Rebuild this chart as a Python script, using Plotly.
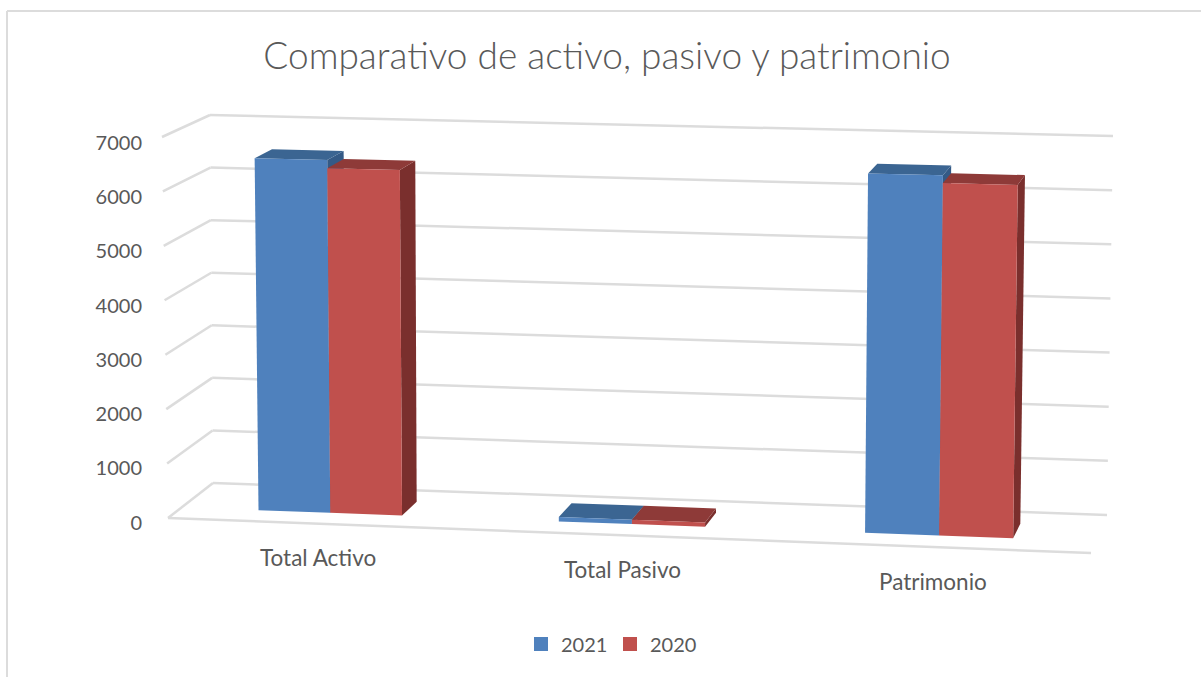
import plotly.graph_objects as go

# ---- data ----
categories = ["Total Activo", "Total Pasivo", "Patrimonio"]
values_2021 = [6520, 80, 6530]
values_2020 = [6370, 80, 6390]
axis_ticks = [0, 1000, 2000, 3000, 4000, 5000, 6000, 7000]
series_names = ["2021", "2020"]
title_text = "Comparativo de activo, pasivo y patrimonio"

# ---- style ----
FRONT = ["#4F81BD", "#C0504D"]
TOP = ["#3B6592", "#8E3A38"]
SIDE = ["#345A86", "#7A2F2D"]
GRID = "#DCDCDC"
TEXT = "#595959"
FONT = "Lato"

# ---- view: corners of the 3-D box on screen (u along categories, v value share, w depth) ----
W, H = 1201, 677
LEFT = 150
VMAX = 7000
C = {
    (0, 0, 0): (168, 518), (1, 0, 0): (1091, 553),
    (0, 0, 1): (213, 483), (1, 0, 1): (1107, 515),
    (0, 1, 0): (162, 137), (1, 1, 0): (1097, 161),
    (0, 1, 1): (210, 115), (1, 1, 1): (1113, 136),
}
GROUP_U = [0.1625, 0.4925, 0.8285]
GROUP_BAR_W = [0.0785, 0.0800, 0.0810]
Y0_PX, PX_PER_UNIT = 522.5, (522.5 - 143) / VMAX


def to_axis(py):
    return (Y0_PX - py) / PX_PER_UNIT


def project(u, value, w):
    v = value / VMAX
    px = py = 0.0
    for (a, b, c), (cx, cy) in C.items():
        k = (u if a else 1 - u) * (v if b else 1 - v) * (w if c else 1 - w)
        px += k * cx
        py += k * cy
    return px, to_axis(py)


fig = go.Figure()


def segment(p, q):
    a, b = project(*p), project(*q)
    fig.add_trace(go.Scatter(x=[a[0], b[0]], y=[a[1], b[1]], mode="lines",
                             line=dict(color=GRID, width=2.5), showlegend=False, hoverinfo="skip"))


for t in axis_ticks:
    segment((0, t, 0), (0, t, 1))
    segment((0, t, 1), (1, t, 1))
segment((0, 0, 0), (1, 0, 0))


def face(points, color):
    pts = [project(*p) for p in points]
    fig.add_trace(go.Scatter(x=[p[0] for p in pts] + [pts[0][0]], y=[p[1] for p in pts] + [pts[0][1]],
                             mode="lines", fill="toself", fillcolor=color, line=dict(width=0),
                             showlegend=False, hoverinfo="skip"))


W0, W1 = 0.305, 0.69
for i, cat in enumerate(categories):
    centre, bar_w = GROUP_U[i], GROUP_BAR_W[i]
    for s, vals in enumerate([values_2021, values_2020]):
        u0 = centre + (s - 1) * bar_w
        u1 = u0 + bar_w
        val = vals[i]
        face([(u1, 0, W0), (u1, 0, W1), (u1, val, W1), (u1, val, W0)], SIDE[s])
        face([(u0, val, W0), (u1, val, W0), (u1, val, W1), (u0, val, W1)], TOP[s])
        face([(u0, 0, W0), (u1, 0, W0), (u1, val, W0), (u0, val, W0)], FRONT[s])

annotations = []
for i, cat in enumerate(categories):
    x, y = project(GROUP_U[i], 0, 0)
    annotations.append(dict(x=x, y=y, xref="x", yref="y", text=cat, showarrow=False, yshift=-34,
                            xanchor="center", yanchor="middle", font=dict(family=FONT, size=22.5, color=TEXT)))

for s, name in enumerate(series_names):
    fig.add_trace(go.Scatter(x=[None], y=[None], mode="markers", name=name,
                             marker=dict(symbol="square", size=14, color=FRONT[s])))

plot_w = W - LEFT
fx = lambda px: (px - LEFT) / plot_w
fy = lambda py: 1 - py / H
frame = dict(type="line", xref="paper", yref="paper", line=dict(color=GRID, width=2))
shapes = [dict(frame, x0=fx(7), x1=fx(1201), y0=fy(11), y1=fy(11)),
          dict(frame, x0=fx(7), x1=fx(7), y0=fy(11), y1=fy(677))]

fig.update_layout(
    width=W, height=H, autosize=False,
    margin=dict(l=LEFT, r=0, t=0, b=0, pad=0, autoexpand=False),
    paper_bgcolor="white", plot_bgcolor="white",
    title=dict(text=title_text, xref="container", yref="container", x=607 / W, y=1 - 56 / H,
               xanchor="center", yanchor="middle",
               font=dict(family=FONT, size=37, color=TEXT, weight=300)),
    xaxis=dict(range=[LEFT, W], visible=False, fixedrange=True),
    yaxis=dict(range=[to_axis(H), to_axis(0)], tickmode="array", tickvals=axis_ticks,
               ticktext=[str(t) for t in axis_ticks], showgrid=False, zeroline=False, showline=False,
               ticks="outside", ticklen=3, tickcolor="rgba(0,0,0,0)", fixedrange=True,
               tickfont=dict(family=FONT, size=20, color=TEXT)),
    legend=dict(orientation="h", x=610 / W, y=1 - 644 / H, xref="container", yref="container",
                xanchor="center", yanchor="middle", font=dict(family=FONT, size=20, color=TEXT),
                itemwidth=30, entrywidth=44, entrywidthmode="pixels", bgcolor="rgba(0,0,0,0)"),
    annotations=annotations, shapes=shapes, hovermode=False,
)

fig.write_html("out.html", config=dict(displayModeBar=False),
               post_script="document.body.style.margin='0';document.body.style.overflow='hidden';")
